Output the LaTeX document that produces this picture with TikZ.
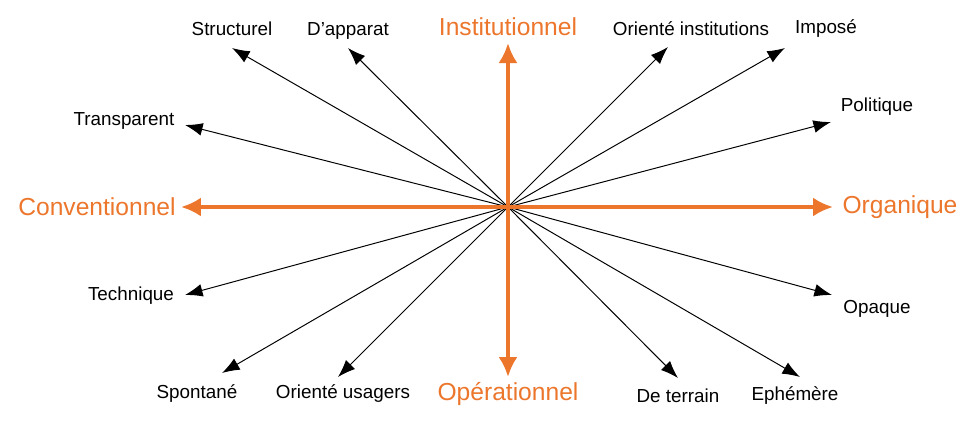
\documentclass[tikz,border=0pt]{standalone}
\usepackage{fontspec}
\setmainfont{Liberation Sans}
\usetikzlibrary{arrows.meta}
\definecolor{axisorange}{RGB}{236,118,44}

\begin{document}
\begin{tikzpicture}[>=Latex,
  ray/.style={draw=black,line width=0.7pt,-{Latex[length=4.4mm,width=3.2mm]}},
  axis/.style={draw=axisorange,line width=2.8pt,-{Latex[length=5mm,width=4.8mm]}},
  lab/.style={font=\fontsize{13.4}{15}\selectfont,inner sep=0pt},
  axlab/.style={font=\fontsize{17.5}{20}\selectfont,text=axisorange,inner sep=0pt}]
\useasboundingbox (-12.7,-5.325) rectangle (11.75,5.175);
\coordinate (o) at (0,0);
% axes
\node[axlab] (inst) at (0,4.5) {Institutionnel};
\node[axlab] (oper) at (0,-4.675) {Opérationnel};
\node[axlab] (conv) at (-10.275,0) {Conventionnel};
\node[axlab] (orga) at (9.8,0) {Organique};
\coordinate (tinst) at (0,4.1);
\coordinate (toper) at (0,-4.25);
\coordinate (tconv) at (-8.175,0);
\coordinate (torga) at (8.125,0);
% labels
\node[lab] (struc) at (-6.9,4.45) {Structurel};
\node[lab] (appar) at (-4.0,4.4) {D’apparat};
\node[lab] (orinst) at (4.575,4.45) {Orienté institutions};
\node[lab] (impos) at (7.95,4.45) {Imposé};
\node[lab] (transp) at (-9.6,2.15) {Transparent};
\node[lab] (polit) at (9.225,2.5) {Politique};
\node[lab] (techn) at (-9.425,-2.225) {Technique};
\node[lab] (opaq) at (9.225,-2.55) {Opaque};
\node[lab] (spont) at (-7.775,-4.675) {Spontané};
\node[lab] (orusag) at (-4.125,-4.675) {Orienté usagers};
\node[lab] (terr) at (4.25,-4.725) {De terrain};
\node[lab] (ephem) at (7.175,-4.725) {Ephémère};
% arrow ends
\coordinate (tstruc) at (-6.9,3.975);
\coordinate (tappar) at (-4.0,3.975);
\coordinate (torinst) at (4.0,4.0);
\coordinate (timpos) at (6.925,3.975);
\coordinate (ttransp) at (-8.075,2.05);
\coordinate (tpolit) at (8.075,2.125);
\coordinate (ttechn) at (-8.075,-2.2);
\coordinate (topaq) at (8.1,-2.2);
\coordinate (tspont) at (-7.15,-4.15);
\coordinate (torusag) at (-4.25,-4.25);
\coordinate (tterr) at (4.25,-4.275);
\coordinate (tephem) at (7.3,-4.25);
\foreach \t in {tstruc,tappar,torinst,timpos,ttransp,tpolit,ttechn,topaq,tspont,torusag,tterr,tephem}
  \draw[ray] (o)--(\t);
\foreach \t in {tinst,toper,tconv,torga}
  \draw[axis] (o)--(\t);
\end{tikzpicture}
\end{document}
